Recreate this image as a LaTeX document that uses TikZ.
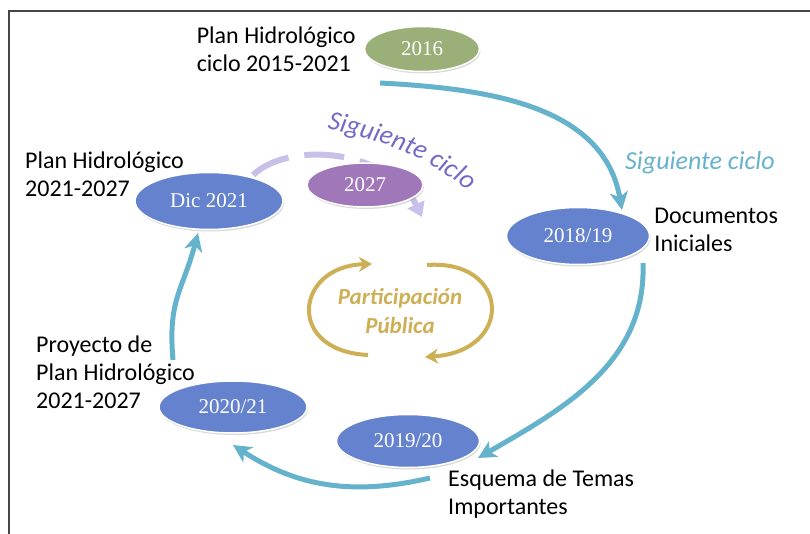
\documentclass[tikz,border=0pt]{standalone}
\usepackage{fontspec}
\setmainfont{Carlito}
\newfontfamily\yearfont{Liberation Serif}
\usetikzlibrary{positioning, shapes.geometric, shadows, arrows.meta, decorations.text, backgrounds}
\definecolor{ciclo}{RGB}{100,178,204}
\definecolor{fase}{RGB}{100,130,205}
\definecolor{verde}{RGB}{155,176,120}
\definecolor{morado}{RGB}{160,120,185}
\definecolor{lila}{RGB}{200,192,232}
\definecolor{lilatxt}{RGB}{115,105,200}
\definecolor{oro}{RGB}{205,175,85}
\definecolor{marco}{RGB}{70,70,70}
\tikzstyle{year} = [ellipse, draw=white, line width=1.5pt, text=white, inner sep=0pt, font=\yearfont\fontsize{21}{21}\selectfont, drop shadow={opacity=0.3, shadow xshift=1pt, shadow yshift=-2pt}]
\tikzstyle{etiq} = [align=left, inner sep=0pt, font=\fontsize{24}{28}\selectfont]
\tikzstyle{flecha} = [ciclo, line width=5pt, -{Stealth[length=18pt, width=18pt, inset=5pt]}]
\tikzstyle{giro} = [oro, line width=4pt, -{Stealth[length=13pt, width=15pt, inset=4pt]}]

\begin{document}
\begin{tikzpicture}[x=1pt, y=1pt]
        \useasboundingbox (0,0) rectangle (810,-534);
        \draw [marco, line width=1.2pt] (9,-534) -- (9,-11) -- (810,-11);
        \node (y2016) [year, fill=verde, minimum width=115pt, minimum height=45pt] at (422,-49) {2016};
        \node (y1819) [year, fill=fase, minimum width=143pt, minimum height=57pt] at (578,-236) {2018/19};
        \node (y1920) [year, fill=fase, minimum width=143pt, minimum height=53pt] at (408,-441) {2019/20};
        \node (y2021) [year, fill=fase, minimum width=148pt, minimum height=52pt] at (233,-407) {2020/21};
        \node (yDic) [year, fill=fase, minimum width=148pt, minimum height=57pt] at (209,-201) {Dic 2021};
        \node (y2027) [year, fill=morado, minimum width=116pt, minimum height=44pt] at (365,-185) {2027};
        \node (l2016) [etiq, left=8pt of y2016] {Plan Hidrológico\\ciclo 2015-2021};
        \node (lDoc) [etiq, right=4pt of y1819, yshift=6pt] {Documentos\\Iniciales};
        \node (lEsq) [etiq, anchor=west] at (448,-494) {Esquema de Temas\\Importantes};
        \node (lProy) [etiq, anchor=west] at (36,-372) {Proyecto de\\Plan Hidrológico\\2021-2027};
        \node (lDic) [etiq, anchor=west] at (25,-174) {Plan Hidrológico\\2021-2027};
        \node (sig) [text=ciclo, font=\itshape\fontsize{26}{26}\selectfont] at (700,-163) {Siguiente ciclo};
        \node (part) [text=oro, align=center, font=\bfseries\itshape\fontsize{23}{29}\selectfont] at (400,-311) {Participación\\Pública};
        \draw [flecha] ([shift={(-42,-34)}]y2016.center) to[out=-3, in=100] ([shift={(44,26)}]y1819.center);
        \draw [flecha] ([shift={(65,-27)}]y1819.center) to[out=-88, in=30] ([shift={(70,-17)}]y1920.center);
        \draw [flecha] ([shift={(22,-37)}]y1920.center) to[out=193, in=-33] ([shift={(0,-38)}]y2021.center);
        \draw [flecha] ([shift={(-60,47)}]y2021.center) to[out=95, in=-105, looseness=1.2] ([shift={(-11,-32)}]yDic.center);
        \draw [giro] ([shift={(-32,-44)}]part.center) .. controls ([shift={(-115,-40)}]part.center) and ([shift={(-105,45)}]part.center) .. ([shift={(-28,47)}]part.center);
        \draw [giro] ([shift={(27,46)}]part.center) .. controls ([shift={(110,52)}]part.center) and ([shift={(115,-40)}]part.center) .. ([shift={(25,-46)}]part.center);
        \begin{scope}[on background layer]
            \draw [lila, line width=6pt, dash pattern=on 40pt off 16pt, -{Triangle[length=14pt, width=18pt]}] ([shift={(44,26)}]yDic.center) .. controls ([shift={(81,61)}]yDic.center) and ([shift={(25,35)}]y2027.center) .. ([shift={(57,-32)}]y2027.center);
        \end{scope}
        \path [decorate, decoration={text along path, text align=center, text color=lilatxt, text={|\itshape\fontsize{27}{27}\selectfont|Siguiente ciclo}}] (314,-126) to[out=-12, in=138] (478,-200);
    \end{tikzpicture}
\end{document}
